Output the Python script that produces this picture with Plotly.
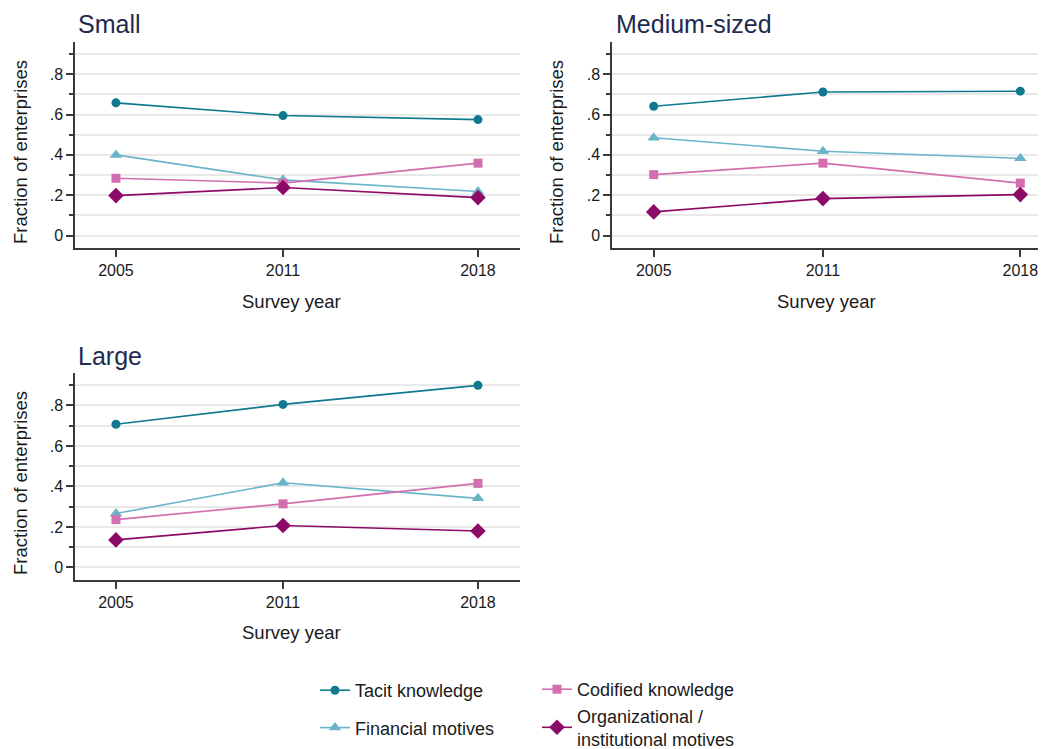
import plotly.graph_objects as go

# ---------------- data ----------------
years = [2005, 2011, 2018]
year_labels = ["2005", "2011", "2018"]
panel_titles = ["Small", "Medium-sized", "Large"]
x_title = "Survey year"
y_title = "Fraction of enterprises"

series_names = ["Tacit knowledge", "Financial motives", "Codified knowledge",
                "Organizational /<br>institutional motives"]

small_tacit = [0.658, 0.595, 0.575]
small_financial = [0.400, 0.276, 0.218]
small_codified = [0.284, 0.260, 0.359]
small_org = [0.198, 0.238, 0.188]

medium_tacit = [0.641, 0.712, 0.716]
medium_financial = [0.485, 0.418, 0.383]
medium_codified = [0.302, 0.359, 0.260]
medium_org = [0.117, 0.183, 0.203]

large_tacit = [0.707, 0.805, 0.899]
large_financial = [0.266, 0.418, 0.341]
large_codified = [0.236, 0.314, 0.415]
large_org = [0.136, 0.207, 0.180]

ytick_vals = [0, 0.2, 0.4, 0.6, 0.8]
ytick_text = ["0", ".2", ".4", ".6", ".8"]
yminor_vals = [0.1, 0.3, 0.5, 0.7, 0.9]

# ---------------- styles ----------------
colors = ["#10798f", "#69b4c8", "#d36fb0", "#8c0a68"]
symbols = ["circle", "triangle-up", "square", "diamond"]
msizes = [9, 11, 9, 12]
legend_ids = ["legend", "legend", "legend2", "legend2"]

panels = [
    (small_tacit, small_financial, small_codified, small_org),
    (medium_tacit, medium_financial, medium_codified, medium_org),
    (large_tacit, large_financial, large_codified, large_org),
]
suffixes = ["", "2", "3"]

OFF = 8  # default page body margin
W, H = 1046 - OFF, 749 - OFF
FONT = "Liberation Sans, Arial, sans-serif"
AX = "#3a3a3a"
GRID = "#e9e9e9"
TXT = "#1a1a1a"

fig = go.Figure()
for p, vals in enumerate(panels):
    for s in range(4):
        fig.add_trace(go.Scatter(
            x=years, y=vals[s], mode="lines+markers",
            name=series_names[s],
            line=dict(color=colors[s], width=1.6),
            marker=dict(color=colors[s], symbol=symbols[s], size=msizes[s]),
            xaxis="x" + suffixes[p], yaxis="y" + suffixes[p],
            showlegend=(p == 0), legend=legend_ids[s],
            legendgroup=series_names[s],
            hoverinfo="skip",
        ))


def px_x(v):
    return (v - OFF) / W


def px_y(v):
    return 1 - (v - OFF) / H


def yaxis(domain, anchor):
    return dict(
        domain=domain, anchor=anchor, range=[-0.062, 0.96], automargin=False,
        tickmode="array", tickvals=ytick_vals, ticktext=ytick_text,
        ticks="outside", ticklen=7, tickwidth=1.5, tickcolor=AX,
        showline=True, linecolor=AX, linewidth=1.5,
        showgrid=True, gridcolor=GRID, gridwidth=1.5, zeroline=False,
        minor=dict(tickvals=yminor_vals, ticks="outside", ticklen=4,
                   tickwidth=1.5, tickcolor=AX, showgrid=True,
                   gridcolor=GRID, gridwidth=1.5),
        tickfont=dict(size=16, color=TXT, family=FONT),
        fixedrange=True,
    )


def xaxis(domain, anchor, rng):
    return dict(
        domain=domain, anchor=anchor, range=rng, automargin=False,
        tickmode="array", tickvals=years, ticktext=year_labels,
        ticks="outside", ticklen=7, tickwidth=1.5, tickcolor=AX,
        showline=True, linecolor=AX, linewidth=1.5,
        showgrid=False, zeroline=False,
        tickfont=dict(size=16, color=TXT, family=FONT),
        fixedrange=True,
    )


top_dom = [px_y(248), px_y(42)]
bot_dom = [px_y(580), px_y(373)]
left_dom = [px_x(75), px_x(520)]
right_dom = [px_x(612), 1.0]

fig.update_layout(
    width=W, height=H,
    margin=dict(l=0, r=0, t=0, b=0, pad=0, autoexpand=False),
    paper_bgcolor="white", plot_bgcolor="white",
    font=dict(family=FONT, color=TXT),
    xaxis=xaxis(left_dom, "y", [2003.53, 2019.51]),
    yaxis=yaxis(top_dom, "x"),
    xaxis2=xaxis(right_dom, "y2", [2003.52, 2019.2 - OFF / 27.7]),
    yaxis2=yaxis(top_dom, "x2"),
    xaxis3=xaxis(left_dom, "y3", [2003.53, 2019.51]),
    yaxis3=yaxis(bot_dom, "x3"),
    legend=dict(x=px_x(315), y=px_y(672), xanchor="left", yanchor="top",
                orientation="v", tracegroupgap=11, traceorder="grouped",
                font=dict(size=18, color=TXT, family=FONT),
                bgcolor="rgba(0,0,0,0)"),
    legend2=dict(x=px_x(537), y=px_y(671), xanchor="left", yanchor="top",
                 orientation="v", tracegroupgap=0, traceorder="grouped",
                 font=dict(size=18, color=TXT, family=FONT),
                 bgcolor="rgba(0,0,0,0)"),
    showlegend=True,
)

# panel titles
title_pos = [(76, 24), (614, 24), (76, 356)]
for t, (tx, ty) in zip(panel_titles, title_pos):
    fig.add_annotation(text=t, x=px_x(tx), y=px_y(ty), xref="paper", yref="paper",
                       xanchor="left", yanchor="middle", showarrow=False,
                       font=dict(size=25, color="#1e2b4f", family=FONT))

# axis titles
xt_pos = [(291, 301), (826, 301), (291, 632)]
for tx, ty in xt_pos:
    fig.add_annotation(text=x_title, x=px_x(tx), y=px_y(ty), xref="paper", yref="paper",
                       xanchor="center", yanchor="middle", showarrow=False,
                       font=dict(size=18.5, color=TXT, family=FONT))
yt_pos = [(20, 152), (556, 152), (20, 483)]
for tx, ty in yt_pos:
    fig.add_annotation(text=y_title, x=px_x(tx), y=px_y(ty), xref="paper", yref="paper",
                       xanchor="center", yanchor="middle", showarrow=False,
                       textangle=-90,
                       font=dict(size=18.5, color=TXT, family=FONT))

fig.write_html("out.html")
